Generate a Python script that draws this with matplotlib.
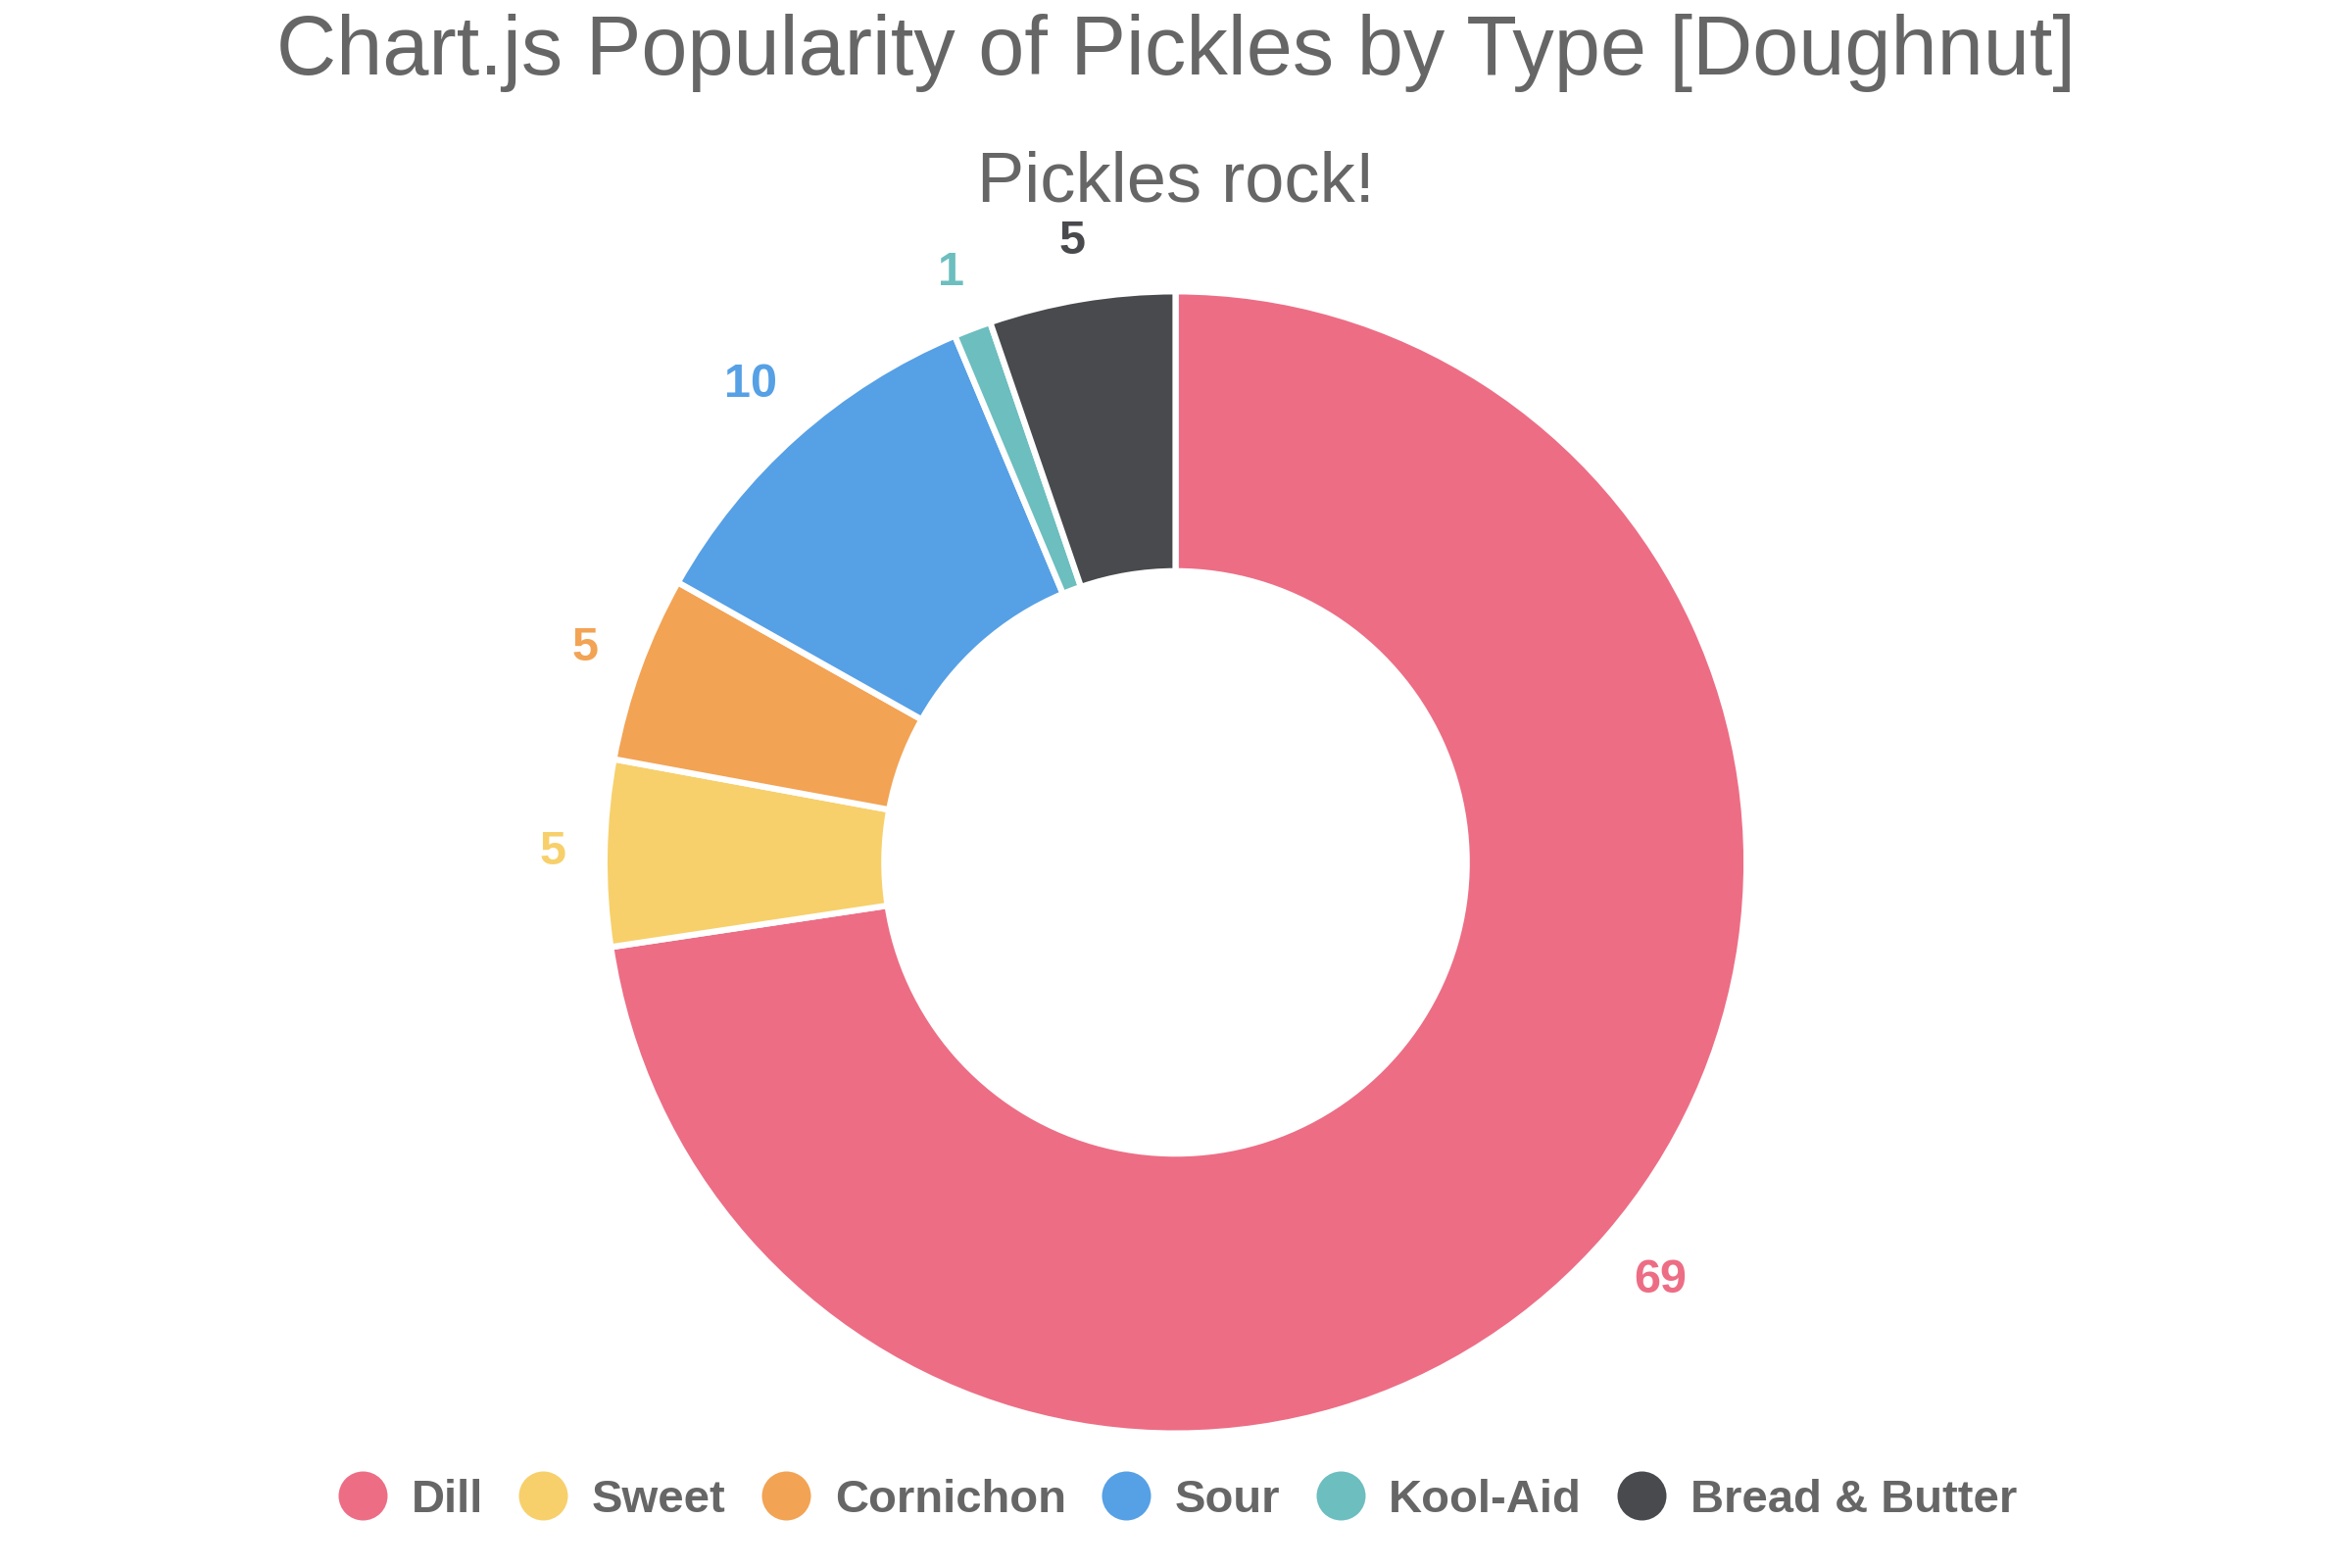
import numpy as np
import matplotlib.pyplot as plt
from matplotlib.lines import Line2D

# datos
labels = ['Dill', 'Sweet', 'Cornichon', 'Sour', 'Kool-Aid', 'Bread & Butter']
values = [69, 5, 5, 10, 1, 5]
colors = ['#ED6D85', '#F7D06B', '#F2A354', '#56A0E5', '#6CBEBF', '#494A4E']

plt.rcParams['font.family'] = ['Liberation Sans', 'DejaVu Sans']
text_color = '#666666'

fig = plt.figure(figsize=(24, 16), dpi=100)
ax = fig.add_axes([0.2083, 0.013, 0.583, 0.874])

wedges, _ = ax.pie(values, colors=colors, startangle=90, counterclock=False,
                   radius=1.0, wedgeprops=dict(width=0.49, edgecolor='white', linewidth=4.5))
ax.set_xlim(-1.2, 1.2)
ax.set_ylim(-1.2, 1.2)
ax.set_aspect('equal')
ax.axis('off')

# etiquetas de valor fuera del anillo
total = sum(values)
start = 0
for v, c in zip(values, colors):
    mid = 90 - (start + v / 2) / total * 360
    start += v
    a = np.deg2rad(mid)
    txt = str(v)
    hw = 0.021 * len(txt)
    hh = 0.029
    r = 1.0 + 0.07 + hw * abs(np.cos(a)) + hh * abs(np.sin(a))
    ax.text(r * np.cos(a), r * np.sin(a), txt, color=c, fontsize=35,
            fontweight='bold', ha='center', va='center')

# títulos
fig.text(0.5, 1 - 54 / 1600, 'Chart.js Popularity of Pickles by Type [Doughnut]',
         ha='center', va='center', fontsize=61, color=text_color)
fig.text(0.5, 1 - 187 / 1600, 'Pickles rock!', ha='center', va='center',
         fontsize=52, color=text_color)

# leyenda
handles = [Line2D([0], [0], marker='o', linestyle='none', markersize=38,
                  markerfacecolor=c, markeredgecolor='white', markeredgewidth=2)
           for c in colors]
leg = fig.legend(handles, labels, loc='center', bbox_to_anchor=(0.5, 1 - 1531 / 1600),
                 ncol=6, frameon=False, handletextpad=0.45, columnspacing=0.7,
                 handlelength=1.2, prop={'size': 34, 'weight': 'bold'})
for t in leg.get_texts():
    t.set_color(text_color)

fig.savefig('out.png', dpi=100)
